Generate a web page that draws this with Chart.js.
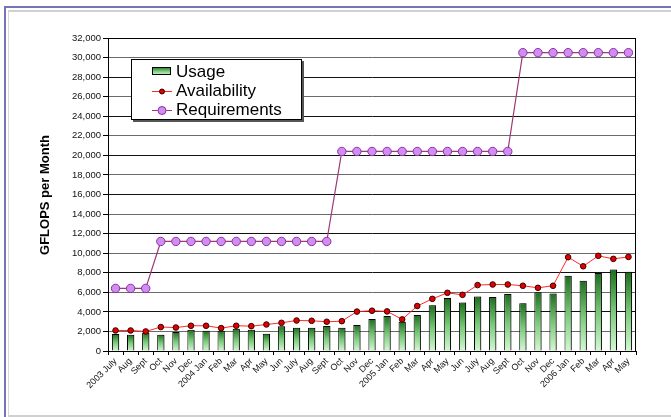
<!DOCTYPE html>
<html>
<head>
<meta charset="utf-8">
<script src="https://cdn.jsdelivr.net/npm/chart.js@4"></script>
<style>
  html, body { margin: 0; padding: 0; background: #fff; overflow: hidden; }
  #outer { position: absolute; left: 4px; top: 6px; width: 700px; height: 420px;
           border-top: 2px solid #7474b8; border-left: 2px solid #7474b8; }
  #inner { position: absolute; left: 8px; top: 10px; width: 700px; height: 403px;
           border-top: 2px solid #d0d0d0; border-left: 1px solid #d8d8d8; border-bottom: 2px solid #d0d0d0; }
  #wrap { position: absolute; left: 0; top: 0; width: 671px; height: 417px; }
</style>
</head>
<body>
<div id="outer"></div>
<div id="inner"></div>
<div id="wrap"><canvas id="gflopsChart"></canvas></div>
<script>
// GFLOPS per month, July 2003 - May 2006
const months = [
  '2003 July', 'Aug', 'Sept', 'Oct', 'Nov', 'Dec',
  '2004 Jan', 'Feb', 'Mar', 'Apr', 'May', 'Jun', 'July', 'Aug', 'Sept', 'Oct', 'Nov', 'Dec',
  '2005 Jan', 'Feb', 'Mar', 'Apr', 'May', 'Jun', 'July', 'Aug', 'Sept', 'Oct', 'Nov', 'Dec',
  '2006 Jan', 'Feb', 'Mar', 'Apr', 'May'
];

const usage = [
  1750, 1650, 1870, 1670, 1940, 2180,
  2080, 2080, 2280, 2180, 1770, 2520, 2380, 2380, 2550, 2380, 2670, 3260,
  3570, 2990, 3680, 4670, 5430, 4950, 5570, 5530, 5840, 4880, 6010, 5880,
  7700, 7180, 7970, 8320, 8110
];

const availability = [
  2100, 2100, 2000, 2450, 2400, 2580,
  2580, 2340, 2580, 2540, 2710, 2880, 3120, 3090, 2990, 3050, 4030, 4120,
  4050, 3230, 4600, 5330, 5950, 5740, 6740, 6800, 6800, 6670, 6460, 6670,
  9590, 8660, 9730, 9420, 9620
];

const requirements = [
  6400, 6400, 6400, 11200, 11200, 11200,
  11200, 11200, 11200, 11200, 11200, 11200, 11200, 11200, 11200, 20400, 20400, 20400,
  20400, 20400, 20400, 20400, 20400, 20400, 20400, 20400, 20400, 30500, 30500, 30500,
  30500, 30500, 30500, 30500, 30500
];

const FONT = '"Liberation Sans", Arial, Helvetica, sans-serif';

function barGradient(ctx, top, bottom) {
  const g = ctx.createLinearGradient(0, top, 0, bottom);
  g.addColorStop(0, '#1b6e1b');
  g.addColorStop(0.5, '#79c879');
  g.addColorStop(1, '#d2fad2');
  return g;
}

// frame of the plot area, axis title and the boxed legend
const decorations = {
  id: 'decorations',
  beforeDatasetDraw(chart, args) {
    if (args.index === 0) {
      const ctx = chart.ctx;
      ctx.save();
      ctx.shadowColor = 'rgba(0,0,0,0.35)';
      ctx.shadowOffsetX = 2;
      ctx.shadowOffsetY = 0;
    }
  },
  afterDatasetDraw(chart, args) {
    if (args.index === 0) chart.ctx.restore();
  },
  afterDraw(chart) {
    const ctx = chart.ctx;
    const a = chart.chartArea;
    ctx.save();
    ctx.strokeStyle = '#000';
    ctx.lineWidth = 1;
    ctx.strokeRect(a.left + 0.5, a.top + 0.5, a.right - a.left - 1, a.bottom - a.top);

    // y axis title
    ctx.translate(45, 195);
    ctx.rotate(-Math.PI / 2);
    ctx.font = 'bold 13px ' + FONT;
    ctx.fillStyle = '#000';
    ctx.textAlign = 'center';
    ctx.textBaseline = 'middle';
    ctx.fillText('GFLOPS per Month', 0, 0);
    ctx.restore();

    // legend
    const ds = chart.data.datasets;
    ctx.save();
    ctx.fillStyle = '#555';
    ctx.fillRect(133, 61, 171, 61);
    ctx.fillStyle = '#fff';
    ctx.fillRect(131, 59, 171, 61);
    ctx.strokeStyle = '#000';
    ctx.lineWidth = 1;
    ctx.strokeRect(131.5, 59.5, 170, 60);

    ctx.font = '17px ' + FONT;
    ctx.fillStyle = '#000';
    ctx.textBaseline = 'middle';
    ctx.textAlign = 'left';

    // Usage swatch
    ctx.fillStyle = barGradient(ctx, 67, 75);
    ctx.fillRect(152, 67, 19, 8);
    ctx.strokeStyle = '#000';
    ctx.strokeRect(152.5, 67.5, 18, 7);
    ctx.fillStyle = '#000';
    ctx.fillText(ds[0].label, 176, 72);

    // Availability
    ctx.strokeStyle = ds[1].borderColor;
    ctx.beginPath(); ctx.moveTo(152, 91.5); ctx.lineTo(172, 91.5); ctx.stroke();
    ctx.beginPath(); ctx.arc(162, 91.5, 2.5, 0, Math.PI * 2);
    ctx.fillStyle = ds[1].pointBackgroundColor; ctx.fill();
    ctx.strokeStyle = ds[1].pointBorderColor; ctx.stroke();
    ctx.fillStyle = '#000';
    ctx.fillText(ds[1].label, 176, 91);

    // Requirements
    ctx.strokeStyle = ds[2].borderColor;
    ctx.beginPath(); ctx.moveTo(152, 110.5); ctx.lineTo(172, 110.5); ctx.stroke();
    ctx.beginPath(); ctx.arc(162, 110.5, 4, 0, Math.PI * 2);
    ctx.fillStyle = ds[2].pointBackgroundColor; ctx.fill();
    ctx.strokeStyle = ds[2].pointBorderColor; ctx.stroke();
    ctx.fillStyle = '#000';
    ctx.fillText(ds[2].label, 176, 110);
    ctx.restore();
  }
};

const gflopsChart = new Chart(document.getElementById('gflopsChart'), {
  type: 'bar',
  data: {
    labels: months,
    datasets: [{
      type: 'bar',
      label: 'Usage',
      data: usage,
      order: 3,
      backgroundColor: (c) => {
        if (c.type !== 'data' || !c.chart.chartArea) return '#3a9a3a';
        const y = c.chart.scales.y;
        return barGradient(c.chart.ctx, y.getPixelForValue(c.raw), y.getPixelForValue(0));
      },
      borderColor: '#000',
      borderWidth: 1,
      barPercentage: 0.48,
      categoryPercentage: 1
    }, {
      type: 'line',
      label: 'Availability',
      data: availability,
      order: 2,
      borderColor: '#ff2a2a',
      borderWidth: 1,
      pointRadius: 2.8,
      pointBackgroundColor: '#e00000',
      pointBorderColor: '#3a0000',
      pointBorderWidth: 1
    }, {
      type: 'line',
      label: 'Requirements',
      data: requirements,
      order: 1,
      borderColor: '#9c3a78',
      borderWidth: 1.2,
      pointRadius: 4.2,
      pointBackgroundColor: '#d08ef0',
      pointBorderColor: '#8e2ea8',
      pointBorderWidth: 1
    }]
  },
  options: {
    responsive: true,
    maintainAspectRatio: false,
    animation: false,
    layout: {
      padding: { top: 38, right: 35, left: 0, bottom: 0 }
    },
    scales: {
      x: {
        offset: true,
        afterFit: (scale) => { scale.height = 66; },
        grid: {
          offset: true,
          drawOnChartArea: false,
          drawTicks: true,
          tickLength: 4,
          tickColor: '#000'
        },
        border: { color: '#000', width: 1 },
        ticks: {
          autoSkip: false,
          maxRotation: 45,
          minRotation: 45,
          padding: 1,
          color: '#111',
          font: { family: FONT, size: 9 }
        }
      },
      y: {
        min: 0,
        max: 32000,
        afterFit: (scale) => { scale.width = 108; },
        grid: {
          color: (c) => (c.index % 2 === 0 ? '#111' : '#6a6a6a'),
          lineWidth: 1,
          tickLength: 5,
          tickColor: '#000'
        },
        border: { color: '#000', width: 1 },
        ticks: {
          stepSize: 2000,
          padding: 2,
          color: '#111',
          font: { family: FONT, size: 9.5 }
        }
      }
    },
    plugins: {
      legend: { display: false },
      tooltip: { enabled: false }
    }
  },
  plugins: [decorations]
});
</script>
</body>
</html>
